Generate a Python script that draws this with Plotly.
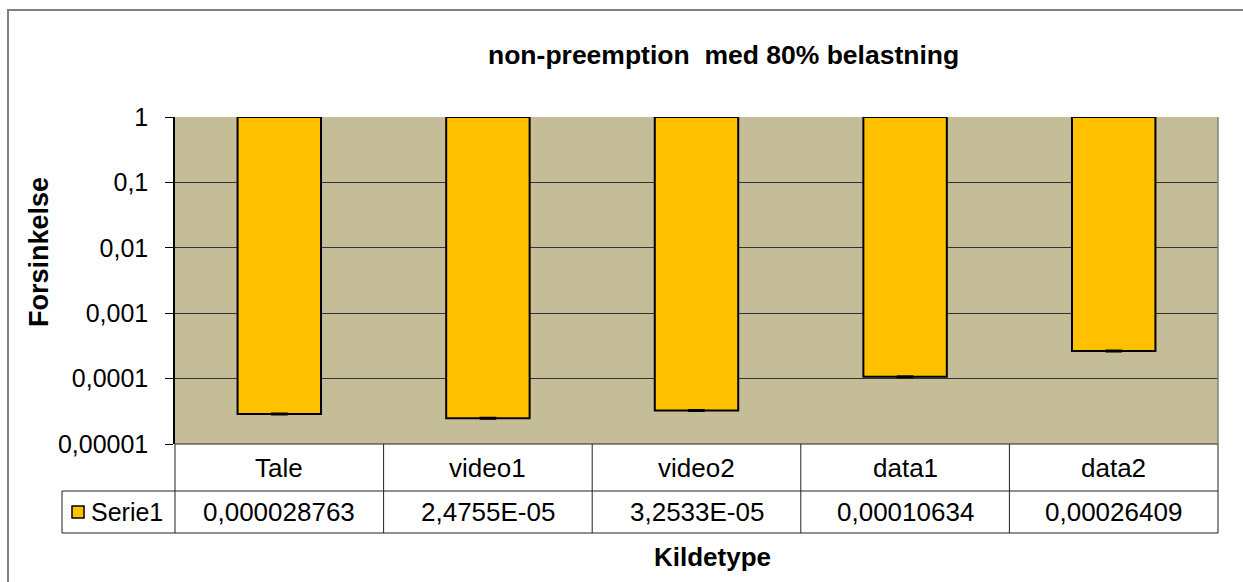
import plotly.graph_objects as go

# data
categories = ["Tale", "video1", "video2", "data1", "data2"]
delay = [0.000028763, 2.4755e-05, 3.2533e-05, 0.00010634, 0.00026409]
delay_labels = ["0,000028763", "2,4755E-05", "3,2533E-05", "0,00010634", "0,00026409"]
series_name = "Serie1"
y_ticks = [1, 0.1, 0.01, 0.001, 0.0001, 0.00001]
y_ticktext = ["1", "0,1", "0,01", "0,001", "0,0001", "0,00001"]

W, H = 1243, 582
L, R, T, B = 175, 25, 117, 138
PW, PH = W - L - R, H - T - B
FONT = "Liberation Sans, Arial, sans-serif"
BAR = "#FFC000"
BG = "#C4BD97"


def px(x):
    return (x - L) / PW


def py(y):
    return (H - B - y) / PH


fig = go.Figure()

# bars hang from 1 down to the value (excel log axis crossing at 1)
fig.add_trace(go.Bar(
    x=categories, y=[v - 1 for v in delay], base=1,
    width=0.4, marker=dict(color=BAR, line=dict(color="black", width=2)),
    name=series_name, showlegend=False,
))
# tiny error-bar marks at the bottom of each bar
fig.add_trace(go.Scatter(
    x=categories, y=delay, mode="markers",
    marker=dict(symbol="line-ew", size=12, line=dict(color="black", width=3)),
    showlegend=False, hoverinfo="skip",
))

shapes = []
line_col = "#222222"


def seg(x0, y0, x1, y1, color=line_col, w=1):
    shapes.append(dict(type="line", xref="paper", yref="paper",
                       x0=px(x0), y0=py(y0), x1=px(x1), y1=py(y1),
                       line=dict(color=color, width=w)))


# data table grid
top, mid, bot = 444, 491, 533
seg(175, top, 1218, top)
seg(62, mid, 1218, mid)
seg(62, bot, 1218, bot)
seg(62, mid, 62, bot)
for i in range(len(categories) + 1):
    xx = 175 + i * PW / len(categories)
    seg(xx, top, xx, bot)

# plot area right border
seg(1218, 117, 1218, top, color="#808080", w=1.5)

# outer chart border
shapes.append(dict(type="rect", xref="paper", yref="paper",
                   x0=px(8), y0=py(620), x1=px(1270), y1=py(10),
                   line=dict(color="#808080", width=2)))

# legend key
shapes.append(dict(type="rect", xref="paper", yref="paper",
                   x0=px(72), y0=py(518), x1=px(84), y1=py(506),
                   fillcolor=BAR, line=dict(color="black", width=1.5)))


def note(x, y, text, xref="paper", **kw):
    d = dict(x=x, y=py(y), xref=xref, yref="paper", text=text, showarrow=False,
             xanchor="center", yanchor="middle")
    d.update(kw)
    annotations.append(d)


annotations = []
for cat, lab in zip(categories, delay_labels):
    note(cat, (top + mid) / 2, cat, xref="x", font=dict(size=26))
    note(cat, (mid + bot) / 2, lab, xref="x", font=dict(size=26))
note(px(89), (mid + bot) / 2, series_name, xanchor="left", font=dict(size=25))

note(px(723), 55, "<b>non-preemption  med 80% belastning</b>", font=dict(size=26.5))
note(px(39), 252, "<b>Forsinkelse</b>", textangle=-90, font=dict(size=27))
note(px(712), 557, "<b>Kildetype</b>", font=dict(size=26))

fig.update_layout(
    width=W, height=H,
    margin=dict(l=L, r=R, t=T, b=B),
    paper_bgcolor="white", plot_bgcolor=BG,
    font=dict(family=FONT, color="black", size=25),
    shapes=shapes, annotations=annotations,
)
fig.update_xaxes(showticklabels=False, showgrid=False, zeroline=False,
                 range=[-0.5, len(categories) - 0.5])
fig.update_yaxes(type="log", range=[-5, 0], tickvals=y_ticks, ticktext=y_ticktext,
                 ticks="outside", ticklen=8, tickcolor="black",
                 showline=True, linecolor="black", linewidth=1.5,
                 showgrid=True, gridcolor="#333333", gridwidth=1,
                 zeroline=False, ticklabelstandoff=12,
                 tickfont=dict(size=25))

fig.write_html("out.html", config={"displayModeBar": False},
               post_script="document.body.style.margin='0px';")
